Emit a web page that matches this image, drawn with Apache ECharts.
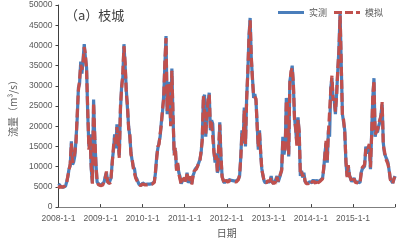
<!DOCTYPE html>
<html>
<head>
<meta charset="utf-8">
<script src="https://cdn.jsdelivr.net/npm/echarts@6/dist/echarts.min.js"></script>
<style>
  html, body { margin: 0; padding: 0; background: #fff; }
  #chart { width: 397px; height: 243px; }
</style>
</head>
<body>
<div id="chart"></div>
<script>
// 实测 / 模拟 流量, one value every ~10 days (1st, 11th, 21st of each month)
const observed = [
  // 2008
  5800, 5400, 5100, 5000, 4900, 5000, 5200, 6300, 7500, 9500, 10200, 16300, 10500, 11200, 12800, 17000, 22000, 29500,
  30500, 36000, 33000, 36500, 40300, 37000, 34500, 23000, 15000, 18000, 9400, 6000, 26600, 17000, 11000, 6200, 5800, 5500,
  // 2009
  5500, 5600, 5700, 6200, 7600, 8500, 6500, 5800, 6000, 7200, 11500, 14000, 18000, 14500, 20500, 16000, 12800, 24000,
  30000, 32000, 40300, 35000, 29000, 24500, 20000, 17500, 13500, 11500, 10000, 9500, 7500, 7000, 6200, 5600, 5400, 5400,
  // 2010
  6000, 5800, 5600, 5600, 5700, 5600, 5700, 5600, 5800, 5900, 6300, 8500, 12500, 14500, 16000, 17500, 21000, 23500,
  27500, 35000, 42300, 23000, 31000, 28000, 20600, 34300, 22000, 13300, 14200, 9400, 10500, 8500, 7500, 5800, 6500, 7000,
  // 2011
  7000, 6500, 8500, 6000, 6800, 7300, 5800, 7700, 8500, 9400, 9000, 10100, 10500, 11800, 13300, 17000, 27000, 27800,
  17400, 23000, 26000, 28300, 19000, 21500, 20600, 14000, 11000, 13300, 8500, 9500, 21000, 12500, 7700, 6500, 6000, 6500,
  // 2012
  6500, 6300, 6800, 6400, 6600, 6300, 6500, 6200, 6400, 6300, 7000, 7700, 12500, 19000, 15800, 24600, 15000, 27000,
  33000, 42300, 46800, 36700, 32000, 27000, 28000, 26300, 20600, 14200, 19000, 13300, 9500, 7700, 6500, 6000, 6200, 6300,
  // 2013
  6300, 6200, 7700, 6000, 5900, 6100, 6000, 7700, 6200, 6500, 8000, 9400, 17400, 13000, 15000, 27000, 24600, 12500,
  31200, 33000, 35000, 30200, 22200, 19000, 15800, 22200, 18200, 7700, 9000, 7300, 8500, 6300, 6000, 5800, 6000, 6300,
  // 2014
  6300, 6000, 6800, 6100, 6000, 6700, 6200, 6100, 6600, 6300, 7200, 9400, 13300, 15800, 11000, 19000, 17400, 29500,
  31900, 27000, 26300, 23000, 28000, 33500, 39100, 48000, 35000, 23000, 21000, 19000, 11000, 7700, 10100, 8000, 7000, 6300,
  // 2015 (+ 2016-1-1)
  6300, 7200, 6300, 6000, 6200, 6100, 6000, 8500, 9400, 9800, 10100, 15000, 13300, 14000, 15000, 9400, 18200, 27000,
  31900, 17400, 19000, 18500, 20000, 21000, 23000, 25400, 15800, 13300, 12500, 11800, 11000, 9000, 7000, 6500, 6000, 6800,
  7700
];

const simulated = [
  // 2008
  4600, 5200, 5000, 4900, 4800, 5100, 5400, 6000, 7800, 9000, 10800, 15800, 11000, 10800, 13500, 16200, 23000, 28800,
  31500, 35200, 34000, 35800, 39600, 37800, 33800, 24000, 14200, 17200, 10000, 5800, 25800, 17800, 10400, 6500, 5600, 5300,
  // 2009
  5300, 5700, 5500, 6500, 7200, 8800, 6200, 6000, 5800, 7600, 11000, 14800, 17200, 15200, 19800, 16800, 12200, 25000,
  29200, 33000, 39800, 35800, 28200, 25200, 19400, 18000, 13000, 12000, 9600, 9800, 7200, 7300, 6000, 5700, 5300, 5500,
  // 2010
  5700, 5600, 5500, 5700, 5500, 5700, 5600, 5500, 5700, 6000, 6100, 8900, 12000, 15000, 15500, 18200, 20400, 24200,
  26800, 35800, 41800, 23800, 30400, 28800, 20000, 33700, 22800, 12800, 14800, 9000, 10900, 8200, 7800, 5600, 6800, 7200,
  // 2011
  7200, 6300, 8200, 6200, 6500, 7600, 5600, 7400, 8900, 9000, 9400, 9700, 10900, 11400, 13800, 16400, 27500, 27200,
  18000, 22400, 26600, 27800, 19600, 21000, 21200, 13500, 11500, 12800, 8800, 9200, 20400, 13000, 7400, 6700, 5800, 6700,
  // 2012
  6700, 6100, 6600, 6600, 6400, 6500, 6300, 6400, 6200, 6500, 6800, 8000, 12000, 18400, 16400, 24000, 15600, 26400,
  33600, 41800, 46200, 37300, 31400, 27600, 27400, 26800, 20000, 14800, 18400, 13800, 9200, 7900, 6300, 6100, 6000, 6500,
  // 2013
  6100, 6400, 7400, 6200, 5700, 6300, 5800, 7500, 6400, 6300, 8300, 9000, 16800, 13600, 14400, 26400, 25200, 13000,
  30600, 33600, 34400, 30800, 21600, 19600, 15200, 21600, 18800, 8000, 8700, 7600, 8200, 6500, 5800, 6000, 5800, 6500,
  // 2014
  6100, 6200, 6600, 6300, 5800, 6900, 6000, 6300, 6400, 6500, 7000, 9800, 12800, 16400, 11600, 18400, 18000, 28800,
  32500, 26400, 26900, 23600, 27400, 34100, 38500, 47400, 35600, 22400, 21600, 18400, 11500, 7400, 10400, 7700, 7200, 6100,
  // 2015 (+ 2016-1-1)
  6500, 7000, 6100, 6200, 6000, 6300, 5800, 8200, 9800, 9500, 10500, 14400, 13800, 13500, 15600, 9800, 17600, 27600,
  31300, 18000, 18400, 19100, 19400, 21600, 22400, 26000, 15200, 13800, 12000, 12200, 10600, 9300, 6800, 6700, 5800, 7000,
  7500
];

const startYear = 2008;
const endYear = 2016;
const daysInMonth = [1, 11, 21];

// 日期 categories
const dates = [];
for (let y = startYear; y < endYear; y++) {
  for (let m = 1; m <= 12; m++) {
    daysInMonth.forEach(d => dates.push(y + '-' + m + '-' + d));
  }
}
dates.push(endYear + '-1-1');

const isYearStart = (i) => i % 36 === 0;

const chart = echarts.init(document.getElementById('chart'));
const numFont = '"Liberation Sans", sans-serif';
const cjkFont = '"Noto Sans CJK SC", sans-serif';
const grey = '#595959';
const blue = '#4a7ebb';
const red = '#c0504d';

chart.setOption({
  animation: false,
  textStyle: { fontFamily: numFont },
  title: {
    text: '（a）枝城',
    left: 60,
    top: 4,
    textStyle: { fontSize: 13, fontWeight: 'normal', color: '#404040', fontFamily: cjkFont }
  },
  legend: {
    right: 9,
    top: 3,
    itemWidth: 26,
    itemHeight: 3,
    itemGap: 7,
    textStyle: { fontSize: 9, color: grey, fontFamily: cjkFont },
    data: [
      { name: '实测', icon: 'rect' },
      { name: '模拟', icon: 'path://M0,0h8v3h-8z M11,0h8v3h-8z M22,0h4v3h-4z' }
    ]
  },
  grid: { left: 43, right: 2, top: 5, bottom: 31 },
  xAxis: {
    type: 'category',
    data: dates,
    boundaryGap: false,
    name: '日期',
    nameLocation: 'middle',
    nameGap: 20,
    nameTextStyle: { fontSize: 10, color: grey, fontFamily: cjkFont },
    axisLine: { lineStyle: { color: '#7f7f7f', width: 1 } },
    axisTick: { inside: true, length: 3, interval: (i) => isYearStart(i), lineStyle: { color: '#404040' } },
    axisLabel: {
      interval: (i) => isYearStart(i) && i < dates.length - 1,
      fontSize: 8.5,
      color: grey,
      margin: 7
    },
    splitLine: { show: false }
  },
  yAxis: {
    type: 'value',
    min: 0,
    max: 50000,
    interval: 5000,
    name: '流量（m³/s）',
    nameLocation: 'middle',
    nameGap: 34,
    nameRotate: 90,
    nameTextStyle: { fontSize: 10, color: grey, fontFamily: cjkFont },
    axisLine: { show: true, lineStyle: { color: '#404040', width: 1 } },
    axisTick: { show: true, length: 3, lineStyle: { color: '#404040' } },
    axisLabel: { fontSize: 8.5, color: grey, margin: 6, formatter: (v) => String(v) },
    splitLine: { show: false }
  },
  series: [
    {
      name: '实测',
      type: 'line',
      data: observed,
      showSymbol: false,
      symbol: 'none',
      lineStyle: { color: blue, width: 3.2 },
      itemStyle: { color: blue }
    },
    {
      name: '模拟',
      type: 'line',
      data: simulated,
      showSymbol: false,
      symbol: 'none',
      lineStyle: { color: red, width: 3.2, type: [9, 4] },
      itemStyle: { color: red }
    }
  ]
});
</script>
</body>
</html>
